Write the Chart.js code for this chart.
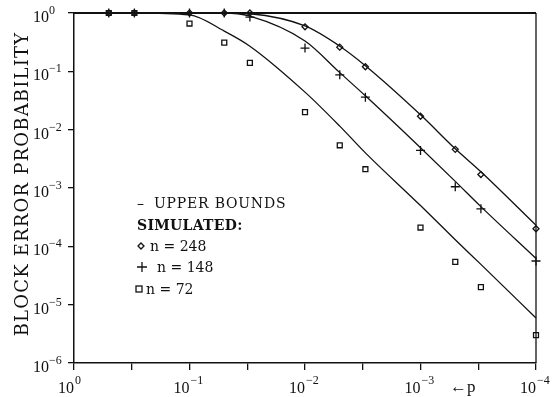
<!DOCTYPE html>
<html>
<head>
<meta charset="utf-8">
<script src="https://cdn.jsdelivr.net/npm/chart.js@4.4.0/dist/chart.umd.min.js"></script>
<style>
  html, body { margin: 0; padding: 0; background: #fff; }
  #wrap { width: 555px; height: 397px; }
</style>
</head>
<body>
<div id="wrap"><canvas id="chart" width="555" height="397"></canvas></div>
<script>
// channel error probability p (x axis, decreasing to the right)
const pValues = [0.5, 0.3, 0.1, 0.05, 0.03, 0.01, 0.005, 0.003, 0.001, 0.0005, 0.0003, 0.0001];

// upper bounds (solid curves)
const bound248 = [1, 1, 1, 1, 0.97, 0.6, 0.27, 0.125, 0.018, 0.0047, 0.0019, 0.00023];
const bound148 = [1, 1, 1, 1, 0.88, 0.33, 0.095, 0.038, 0.0049, 0.0013, 0.00048, 0.000062];
const bound72 = [1, 1, 0.93, 0.49, 0.27, 0.044, 0.0115, 0.004, 0.0005, 0.00013, 0.000049, 0.0000059];

// simulated points
const sim248 = [1, 1, 1, 1, 1, 0.58, 0.26, 0.12, 0.017, 0.0046, 0.0017, 0.0002];
const sim148 = [1, 1, 1, 1, 0.85, 0.25, 0.087, 0.036, 0.0044, 0.00105, 0.00044, 0.000056];
const sim72 = [1, 1, 0.66, 0.31, 0.14, 0.02, 0.0054, 0.0021, 0.00021, 0.000054, 0.00002, 0.000003];

// tick labels (powers of ten)
const xTickExps = [0, -1, -2, -3, -4];
const yTickExps = [0, -1, -2, -3, -4, -5, -6];

const serif = '"DejaVu Serif", "Liberation Serif", serif';
const numFont = '"Liberation Serif", serif';

function toPoints(vals) {
    return pValues.map((p, i) => ({ x: p, y: vals[i] }));
}

function boundSet(vals) {
    return {
        data: toPoints(vals),
        showLine: true,
        borderColor: "#111",
        borderWidth: 1.3,
        pointRadius: 0,
        cubicInterpolationMode: "monotone",
        clip: false,
    };
}

function simSet(vals, style, radius) {
    return {
        data: toPoints(vals),
        showLine: false,
        pointStyle: style,
        pointRadius: radius,
        borderColor: "#111",
        backgroundColor: "rgba(0,0,0,0)",
        pointBorderWidth: 1.3,
        clip: false,
    };
}

// draws frame, power-of-ten labels, axis title and the key
const paperPlugin = {
    id: "paper",
    afterDraw(chart) {
        const ctx = chart.ctx;
        const area = chart.chartArea;
        const xs = chart.scales.x;
        const ys = chart.scales.y;
        ctx.save();
        ctx.strokeStyle = "#111";
        ctx.fillStyle = "#111";

        // top and right border
        ctx.lineWidth = 2;
        ctx.beginPath();
        ctx.moveTo(area.left, area.top);
        ctx.lineTo(area.right, area.top);
        ctx.stroke();
        ctx.lineWidth = 1.3;
        ctx.beginPath();
        ctx.moveTo(area.right, area.top);
        ctx.lineTo(area.right, area.bottom);
        ctx.stroke();

        ctx.textBaseline = "alphabetic";

        // y labels
        yTickExps.forEach(e => {
            const y = ys.getPixelForValue(Math.pow(10, e));
            ctx.font = "16px " + numFont;
            ctx.textAlign = "left";
            ctx.fillText("10", 33, y + 9);
            ctx.font = "12px " + numFont;
            ctx.fillText(e === 0 ? "0" : "\u2212" + (-e), 49, y + 1);
        });

        // x labels
        xTickExps.forEach(e => {
            const x = xs.getPixelForValue(Math.pow(10, e));
            ctx.font = "16px " + numFont;
            ctx.textAlign = "right";
            ctx.fillText("10", x, 393);
            ctx.font = "12px " + numFont;
            ctx.textAlign = "left";
            ctx.fillText(e === 0 ? "0" : "\u2212" + (-e), x + 1, 384);
        });

        ctx.font = "17px " + numFont;
        ctx.textAlign = "left";
        ctx.fillText("\u2190p", 450, 392);

        // y axis title
        ctx.save();
        ctx.translate(28, 184);
        ctx.rotate(-Math.PI / 2);
        ctx.font = "18px " + serif;
        ctx.textAlign = "center";
        ctx.letterSpacing = "1.2px";
        ctx.fillText("BLOCK ERROR PROBABILITY", 0, 0);
        ctx.restore();

        // key
        ctx.font = "14px " + serif;
        ctx.letterSpacing = "0.8px";
        ctx.fillText("\u2013", 137, 208);
        ctx.fillText("UPPER BOUNDS", 154, 208);
        ctx.font = "bold 14px " + serif;
        ctx.letterSpacing = "0.3px";
        ctx.fillText("SIMULATED:", 137, 230);
        ctx.font = "14px " + serif;
        ctx.letterSpacing = "0px";
        ctx.fillText("n = 248", 150, 251);
        ctx.fillText("n = 148", 157, 272);
        ctx.fillText("n = 72", 146, 294);

        ctx.lineWidth = 1.3;
        // diamond
        ctx.beginPath();
        ctx.moveTo(141, 243);
        ctx.lineTo(144, 246);
        ctx.lineTo(141, 249);
        ctx.lineTo(138, 246);
        ctx.closePath();
        ctx.stroke();
        // plus
        ctx.beginPath();
        ctx.moveTo(137, 267);
        ctx.lineTo(147, 267);
        ctx.moveTo(142, 262);
        ctx.lineTo(142, 272);
        ctx.stroke();
        // square
        ctx.strokeRect(136, 286, 6, 6);

        ctx.restore();
    },
};

const ctx = document.getElementById("chart").getContext("2d");
const chart = new Chart(ctx, {
    type: "scatter",
    data: {
        datasets: [
            boundSet(bound248),
            boundSet(bound148),
            boundSet(bound72),
            simSet(sim248, "rectRot", 3),
            simSet(sim148, "cross", 4.5),
            simSet(sim72, "rect", 3.5),
        ],
    },
    options: {
        responsive: false,
        animation: false,
        layout: {
            padding: { left: 68, right: 19, top: 13, bottom: 27 },
        },
        plugins: {
            legend: { display: false },
            tooltip: { enabled: false },
        },
        scales: {
            x: {
                type: "logarithmic",
                reverse: true,
                min: 1e-4,
                max: 1,
                afterBuildTicks: (scale) => {
                    const vals = [];
                    for (let k = 0; k <= 8; k++) vals.push(Math.pow(10, -k / 2));
                    scale.ticks = vals.map(v => ({ value: v }));
                },
                ticks: { display: false },
                grid: { drawOnChartArea: false, tickLength: 7, color: "#111", lineWidth: 1.3 },
                border: { color: "#111", width: 1.5 },
            },
            y: {
                type: "logarithmic",
                min: 1e-6,
                max: 1,
                afterBuildTicks: (scale) => {
                    scale.ticks = yTickExps.map(e => ({ value: Math.pow(10, e) }));
                },
                ticks: { display: false },
                grid: { drawOnChartArea: false, tickLength: 6, color: "#111", lineWidth: 1.3 },
                border: { color: "#111", width: 1.5 },
            },
        },
    },
    plugins: [paperPlugin],
});
</script>
</body>
</html>
